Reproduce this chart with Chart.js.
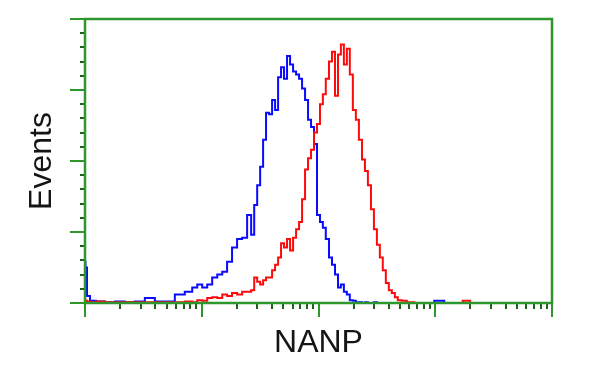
<!DOCTYPE html>
<html>
<head>
<meta charset="utf-8">
<script src="https://cdn.jsdelivr.net/npm/chart.js@4.4.0/dist/chart.umd.min.js"></script>
<style>
html,body{margin:0;padding:0;background:#fff;}
#wrap{width:600px;height:375px;}
</style>
</head>
<body>
<div id="wrap"><canvas id="c" width="600" height="375"></canvas></div>
<script>
// Fluorescence intensity (log axis) for each histogram bin
const intensity = [1, 1.02, 1.06, 1.15, 1.34, 1.64, 1.99, 2.42, 2.95, 3.59,
  4.38, 5.33, 6.49, 7.89, 8.71, 9.61, 10.6, 11.7, 12.9, 14.3,
  15.7, 17.3, 19.1, 21.1, 23.3, 25.7, 27.3, 29.0, 30.7, 32.6,
  34.5, 36.6, 38.9, 41.2, 43.8, 46.4, 49.2, 52.2, 55.4, 58.8,
  62.4, 66.2, 70.2, 74.5, 79.0, 83.8, 88.9, 94.3, 100, 106,
  112, 119, 127, 134, 143, 151, 160, 170, 180, 191,
  203, 215, 229, 243, 257, 273, 290, 307, 326, 345,
  366, 389, 412, 438, 464, 492, 543, 599, 730, 889,
  1082, 1317, 1604, 1841, 2155, 3524, 9420];
// Blue histogram (control)
const controlEvents = [29, 25, 5, 1.5, 1, 0.5, 1, 0.5, 1, 3.5,
  1, 1, 6, 8, 11, 13, 11, 13, 18, 20,
  22, 29, 39, 45, 46, 62, 48, 69, 83, 96,
  115, 134, 133, 143, 136, 159, 166, 158, 174, 168,
  163, 161, 158, 151, 143, 129, 124, 112, 62, 57,
  53, 45, 32, 27, 20, 11, 13, 8, 6, 2,
  1.5, 0.5, 0.5, 0, 0.5, 0, 0, 0.5, 0, 0,
  0, 0, 0, 0, 0, 0, 0, 0, 0, 0,
  1.5, 0, 0, 0, 0, 0, 0];
// Red histogram (NANP antibody)
const nanpEvents = [2, 1.5, 1, 0.5, 1, 0.5, 0.5, 0.5, 0.5, 0.5,
  0.5, 0.5, 0.5, 1, 0.5, 2, 1.5, 3.5, 4, 3.5,
  6, 5, 7, 6, 8, 8, 9, 18, 15, 13,
  16, 18, 18, 23, 27, 32, 42, 39, 45, 37,
  46, 52, 57, 73, 94, 102, 108, 120, 126, 140,
  147, 158, 170, 177, 146, 175, 182, 168, 179, 161,
  136, 129, 115, 101, 93, 83, 66, 52, 41, 32,
  23, 14, 9, 7, 4, 2, 1.5, 0.5, 0, 0,
  0, 0, 0, 1.5, 0, 0, 0];

const xTitle = 'NANP';
const yTitle = 'Events';
const xDecadeTicks = [1, 10, 100, 1000, 10000];
const xMinorMultipliers = [2, 3, 4, 5, 6, 7, 8, 9];
const yMajorTicks = [0, 50, 100, 150, 200];
const yMinorTicks = [10, 20, 30, 40, 60, 70, 80, 90, 110, 120, 130, 140, 160, 170, 180, 190];

const GREEN = 'rgb(45,150,45)';
const DARKGREEN = 'rgb(30,95,30)';

const framePlugin = {
  id: 'frame',
  beforeDraw(chart) {
    const ctx = chart.ctx;
    ctx.save();
    ctx.fillStyle = '#fff';
    ctx.fillRect(0, 0, chart.width, chart.height);
    ctx.restore();
  },
  afterDatasetsDraw(chart) {
    const {ctx, chartArea: a, scales: {x, y}} = chart;
    ctx.save();
    ctx.lineWidth = 2;
    // minor ticks
    ctx.strokeStyle = DARKGREEN;
    ctx.beginPath();
    for (let i = 0; i < xDecadeTicks.length - 1; i++) {
      for (const m of xMinorMultipliers) {
        const px = Math.round(x.getPixelForValue(xDecadeTicks[i] * m));
        ctx.moveTo(px, a.bottom);
        ctx.lineTo(px, a.bottom + 6);
      }
    }
    for (const v of yMinorTicks) {
      const py = Math.round(y.getPixelForValue(v));
      ctx.moveTo(a.left, py);
      ctx.lineTo(a.left - 5, py);
    }
    ctx.stroke();
    // major ticks
    ctx.strokeStyle = GREEN;
    ctx.beginPath();
    for (const v of xDecadeTicks) {
      const px = Math.round(x.getPixelForValue(v));
      ctx.moveTo(px, a.bottom);
      ctx.lineTo(px, a.bottom + 14);
    }
    for (const v of yMajorTicks) {
      const py = Math.round(y.getPixelForValue(v));
      ctx.moveTo(a.left, py);
      ctx.lineTo(a.left - 15, py);
    }
    ctx.stroke();
    // frame
    ctx.lineWidth = 2.5;
    ctx.strokeStyle = GREEN;
    ctx.strokeRect(a.left, a.top, a.right - a.left, a.bottom - a.top);
    ctx.restore();
  }
};

const pts = (arr) => intensity.map((v, i) => ({x: v, y: arr[i]}));

new Chart(document.getElementById('c'), {
  type: 'line',
  data: {
    datasets: [
      {
        label: 'Control',
        data: pts(controlEvents),
        borderColor: '#0a0aff',
        borderWidth: 2,
        pointRadius: 0,
        stepped: 'middle',
        fill: false,
        order: 2
      },
      {
        label: 'NANP',
        data: pts(nanpEvents),
        borderColor: '#ff0a0a',
        borderWidth: 2,
        pointRadius: 0,
        stepped: 'middle',
        fill: false,
        order: 1
      }
    ]
  },
  options: {
    responsive: false,
    devicePixelRatio: 1,
    animation: false,
    layout: {padding: {left: 4, top: 19, right: 48, bottom: 12.3}},
    plugins: {legend: {display: false}, tooltip: {enabled: false}},
    scales: {
      x: {
        type: 'logarithmic',
        min: 1,
        max: 10000,
        ticks: {display: false},
        grid: {display: false, drawTicks: false},
        border: {display: false},
        title: {
          display: true,
          text: xTitle,
          color: '#151515',
          font: {family: "'Liberation Sans', Arial, sans-serif", size: 32, lineHeight: 1.2},
          padding: {top: 21.3, bottom: 0}
        }
      },
      y: {
        type: 'linear',
        min: 0,
        max: 200,
        ticks: {display: false},
        grid: {display: false, drawTicks: false},
        border: {display: false},
        title: {
          display: true,
          text: yTitle,
          color: '#151515',
          font: {family: "'Liberation Sans', Arial, sans-serif", size: 32, lineHeight: 1.2},
          padding: {top: 18.8, bottom: 23.8}
        }
      }
    }
  },
  plugins: [framePlugin]
});
</script>
</body>
</html>
